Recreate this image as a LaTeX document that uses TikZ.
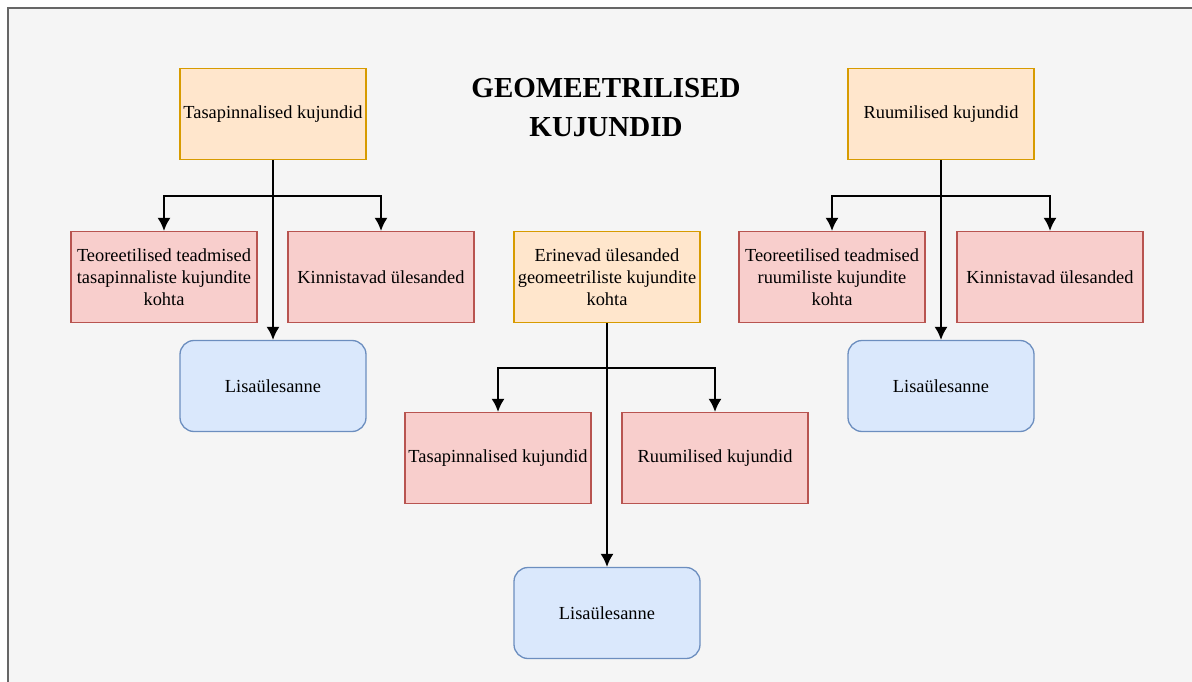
\documentclass[tikz,border=0pt]{standalone}
\usepackage{fontspec}
\setmainfont{Liberation Serif}
\usepackage[dvipsnames]{xcolor}
\usetikzlibrary{arrows.meta}
\usetikzlibrary{positioning}
\definecolor{panelgray}{HTML}{F5F5F5}
\definecolor{framegray}{HTML}{666666}
\definecolor{orfill}{HTML}{FFE6CC}
\definecolor{ordraw}{HTML}{D79B00}
\definecolor{redfill}{HTML}{F8CECC}
\definecolor{reddraw}{HTML}{B85450}
\definecolor{bluefill}{HTML}{DAE8FC}
\definecolor{bluedraw}{HTML}{6C8EBF}
\tikzset{
  basebox/.style={minimum width=186pt, minimum height=91pt, align=center, line width=1.3pt,
    font=\fontsize{18.4}{22}\selectfont, inner sep=1pt},
  topicbox/.style={basebox, draw=ordraw, fill=orfill},
  taskbox/.style={basebox, draw=reddraw, fill=redfill},
  extrabox/.style={basebox, draw=bluedraw, fill=bluefill, rounded corners=14pt},
  link/.style={line width=1.6pt, -{Latex[length=13pt, width=13pt]}}
}
\begin{document}
\begin{tikzpicture}[x=1pt, y=-1pt]
  \useasboundingbox (0,0) rectangle (1192,682);
  \fill[white] (0,0) rectangle (1192,682);
  \fill[panelgray] (8,8) rectangle (1192,682);
  \draw[framegray, line width=2pt] (8,682) -- (8,8) -- (1192,8);

  \node[font=\bfseries\fontsize{29}{39}\selectfont, align=center] (title) at (606,108) {GEOMEETRILISED\\KUJUNDID};

  % tasapinnalised
  \node[topicbox] (tasa) at (273,114) {Tasapinnalised kujundid};
  \node[taskbox] (tasateo) at (164,277) {Teoreetilised teadmised\\tasapinnaliste kujundite\\kohta};
  \node[taskbox] (tasakin) at (381,277) {Kinnistavad ülesanded};
  \node[extrabox] (tasalisa) at (273,386) {Lisaülesanne};

  % erinevad
  \node[topicbox] (eri) at (607,277) {Erinevad ülesanded\\geomeetriliste kujundite\\kohta};
  \node[taskbox] (eritasa) at (498,458) {Tasapinnalised kujundid};
  \node[taskbox] (eriruum) at (715,458) {Ruumilised kujundid};
  \node[extrabox] (erilisa) at (607,613) {Lisaülesanne};

  % ruumilised
  \node[topicbox] (ruum) at (941,114) {Ruumilised kujundid};
  \node[taskbox] (ruumteo) at (832,277) {Teoreetilised teadmised\\ruumiliste kujundite\\kohta};
  \node[taskbox] (ruumkin) at (1050,277) {Kinnistavad ülesanded};
  \node[extrabox] (ruumlisa) at (941,386) {Lisaülesanne};

  \coordinate (tasajunc) at (273,196);
  \coordinate (erijunc) at (607,368);
  \coordinate (ruumjunc) at (941,196);

  \draw[link] (tasa.south) -- (tasajunc) -| (tasateo.north);
  \draw[link] (tasa.south) -- (tasajunc) -| (tasakin.north);
  \draw[link] (tasa.south) -- (tasalisa.north);

  \draw[link] (eri.south) -- (erijunc) -| (eritasa.north);
  \draw[link] (eri.south) -- (erijunc) -| (eriruum.north);
  \draw[link] (eri.south) -- (erilisa.north);

  \draw[link] (ruum.south) -- (ruumjunc) -| (ruumteo.north);
  \draw[link] (ruum.south) -- (ruumjunc) -| (ruumkin.north);
  \draw[link] (ruum.south) -- (ruumlisa.north);
\end{tikzpicture}
\end{document}
